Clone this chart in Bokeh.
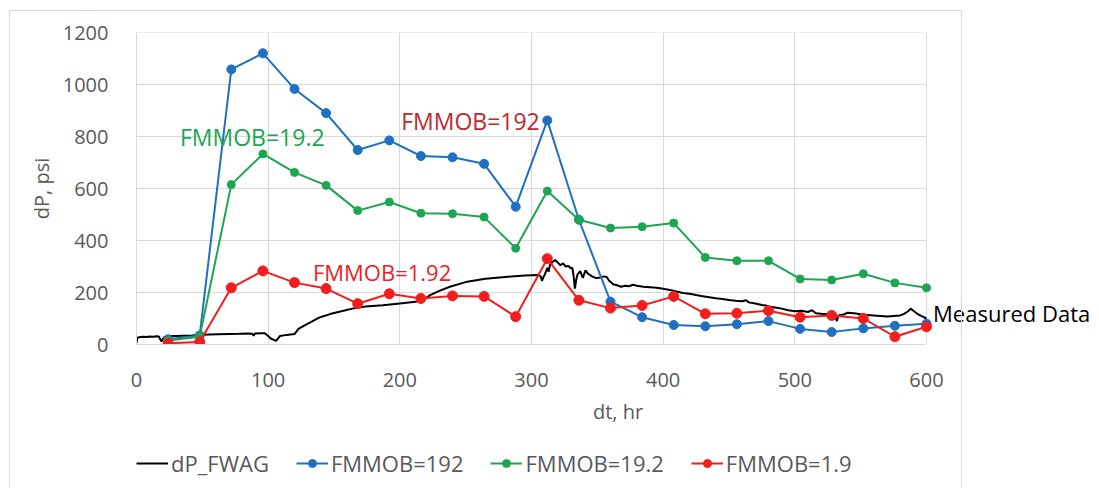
from bokeh.plotting import figure
from bokeh.layouts import column
from bokeh.models import Label, Legend, LegendItem, FixedTicker, Range1d, InlineStyleSheet
from bokeh.embed import file_html
from bokeh.resources import INLINE

# ---- data ----
t_sim = [24, 48, 72, 96, 120, 144, 168, 192, 216, 240, 264, 288, 312, 336,
         360, 384, 408, 432, 456, 480, 504, 528, 552, 576, 600]
fm192 = [20, 35, 1058, 1120, 983, 890, 748, 785, 725, 720, 695, 530, 862, 480,
         165, 105, 75, 70, 78, 90, 60, 48, 62, 72, 80]
fm19_2 = [15, 30, 615, 733, 662, 612, 515, 548, 505, 503, 490, 370, 590, 480,
          448, 453, 467, 335, 322, 322, 252, 248, 272, 237, 218]
fm1_9 = [5, 10, 218, 283, 238, 215, 157, 195, 177, 187, 185, 107, 330, 170,
         140, 150, 185, 118, 120, 130, 105, 112, 100, 30, 68]

t_meas = [0, 0.5, 2, 5, 8, 10, 13, 15, 17, 18, 19, 21, 24, 30, 36, 42, 48, 55, 62,
          70, 78, 85, 88, 89, 90, 95, 97.5, 100, 102, 106, 107, 109, 114, 120, 123,
          127, 132, 139, 147, 154, 164, 174, 187, 200, 212, 218, 223, 230, 238, 250,
          265, 280, 295, 305, 307, 308, 309, 310, 312, 313, 314, 316, 318, 320, 322,
          324, 326, 328, 330, 331, 332, 333, 334, 335, 337, 339, 341, 343, 346, 349,
          352, 355, 357, 359, 362, 365, 368, 371, 374, 377, 380, 385, 390, 395, 400,
          405, 410, 415, 420, 425, 430, 435, 440, 445, 450, 455, 460, 463, 465, 470,
          475, 478, 480, 485, 490, 495, 500, 505, 510, 513, 516, 520, 525, 528, 530,
          532, 533, 537, 540, 545, 550, 555, 560, 565, 570, 575, 580, 583, 586, 588,
          590, 593, 596, 600]
dp_meas = [5, 25, 28, 30, 29, 31, 30, 32, 31, 20, 12, 28, 32, 33, 34, 35, 37, 38, 39,
           40, 41, 42, 41, 34, 42, 43, 43, 33, 23, 14, 20, 33, 37, 40, 60,
           72, 85, 104, 117, 126, 138, 146, 151, 158, 164, 172, 190, 206, 222, 240,
           253, 260, 265, 267, 262, 245, 258, 268, 295, 280, 305, 318, 325, 315, 305,
           312, 300, 302, 292, 296, 262, 215, 250, 270, 282, 256, 285, 272, 262, 255,
           258, 262, 260, 245, 232, 228, 222, 226, 224, 230, 226, 222, 220, 218, 214,
           210, 204, 198, 195, 190, 186, 182, 178, 175, 171, 168, 166, 170, 162, 158,
           152, 150, 146, 142, 138, 132, 128, 130, 125, 132, 120, 118, 116, 114, 112,
           90, 112, 115, 122, 120, 116, 113, 112, 110, 108, 110, 112, 118, 128, 138,
           130, 118, 110, 100]

x_ticks = [0, 100, 200, 300, 400, 500, 600]
y_ticks = [0, 200, 400, 600, 800, 1000, 1200]

BLUE = "#1F70C1"
GREEN = "#1EA552"
RED = "#F21D1D"
FONT = "Open Sans"
GREY_TXT = "#595959"
GRID = "#D9D9D9"

X_MAX = x_ticks[-1]
Y_MAX = y_ticks[-1]
# frame extends right of the plot area so the "Measured Data" note can be drawn
FRAME_W = 1099 - 136
PLOT_W = 790
x_end = X_MAX * FRAME_W / PLOT_W

p = figure(width=1099, height=440, output_backend="svg", toolbar_location=None,
           x_range=Range1d(0, x_end), y_range=Range1d(0, Y_MAX),
           min_border_left=136, min_border_right=0, min_border_top=32,
           min_border_bottom=96)
p.background_fill_color = "white"
p.border_fill_color = None
p.outline_line_color = None

for ax in (p.xaxis[0], p.yaxis[0]):
    ax.axis_line_color = GRID
    ax.major_tick_line_color = None
    ax.minor_tick_line_color = None
    ax.major_label_text_color = GREY_TXT
    ax.major_label_text_font = FONT
    ax.major_label_text_font_size = "20px"
    ax.axis_label_text_color = GREY_TXT
    ax.axis_label_text_font = FONT
    ax.axis_label_text_font_size = "20px"
    ax.axis_label_text_font_style = "normal"

p.xaxis.ticker = FixedTicker(ticks=x_ticks)
p.yaxis.ticker = FixedTicker(ticks=y_ticks)
p.xaxis.bounds = (0, X_MAX)
p.xaxis.axis_label = "dt, hr"
p.yaxis.axis_label = "dP, psi"
p.xaxis.major_label_standoff = 22
p.xaxis.axis_label_standoff = 8
p.yaxis.major_label_standoff = 22
p.yaxis.axis_label_standoff = 5

p.xgrid.ticker = FixedTicker(ticks=x_ticks)
p.xgrid.grid_line_color = GRID
p.ygrid.visible = False
# horizontal grid lines limited to the plot area
p.segment(x0=0, x1=X_MAX, y0=y_ticks, y1=y_ticks, line_color=GRID, line_width=1,
          level="underlay")

p.line(t_meas, dp_meas, line_color="black", line_width=2)
p.line(t_sim, fm192, line_color=BLUE, line_width=2)
p.scatter(t_sim, fm192, size=9, fill_color=BLUE, line_color=BLUE)
p.line(t_sim, fm19_2, line_color=GREEN, line_width=2)
p.scatter(t_sim, fm19_2, size=8, fill_color=GREEN, line_color=GREEN)
p.line(t_sim, fm1_9, line_color=RED, line_width=2)
p.scatter(t_sim, fm1_9, size=10, fill_color=RED, line_color=RED)

def add_label(x, y, text, color, size="23px"):
    p.add_layout(Label(x=x, y=y, text=text, text_color=color, text_font=FONT,
                       text_font_size=size, text_baseline="middle", text_align="left"))

add_label(33, 800, "FMMOB=19.2", GREEN)
add_label(201, 858, "FMMOB=192", "#C0282D")
add_label(134, 280, "FMMOB=1.92", "#EE1C25", "22px")
add_label(605, 123, "Measured Data", "black", "22px")

# ---- legend strip (same series, ranges chosen so only the legend shows) ----
q = figure(width=1099, height=48, output_backend="svg", toolbar_location=None,
           x_range=Range1d(-2, -1), y_range=Range1d(-2, -1),
           x_axis_type=None, y_axis_type=None,
           min_border_left=0, min_border_right=0, min_border_top=0, min_border_bottom=0)
q.outline_line_color = None
q.background_fill_color = "white"
q.border_fill_color = None
q.xgrid.visible = False
q.ygrid.visible = False
lg0 = q.line(t_meas, dp_meas, line_color="black", line_width=2)
lg1 = q.line(t_sim, fm192, line_color=BLUE, line_width=2)
sg1 = q.scatter(t_sim, fm192, size=7, fill_color=BLUE, line_color=BLUE)
lg2 = q.line(t_sim, fm19_2, line_color=GREEN, line_width=2)
sg2 = q.scatter(t_sim, fm19_2, size=7, fill_color=GREEN, line_color=GREEN)
lg3 = q.line(t_sim, fm1_9, line_color=RED, line_width=2)
sg3 = q.scatter(t_sim, fm1_9, size=7, fill_color=RED, line_color=RED)

legend = Legend(items=[
    LegendItem(label="dP_FWAG", renderers=[lg0]),
    LegendItem(label="FMMOB=192", renderers=[lg1, sg1]),
    LegendItem(label="FMMOB=19.2", renderers=[lg2, sg2]),
    LegendItem(label="FMMOB=1.9", renderers=[lg3, sg3]),
], orientation="horizontal", location=(0, 10))
legend.label_text_font = FONT
legend.label_text_font_size = "22px"
legend.label_text_color = GREY_TXT
legend.glyph_width = 32
legend.glyph_height = 20
legend.label_standoff = 3
legend.spacing = 27
legend.padding = 0
legend.margin = 0
legend.border_line_color = None
legend.background_fill_alpha = 0
q.add_layout(legend)

border_css = InlineStyleSheet(css="""
:host::after {
  content: "";
  position: absolute;
  left: 9px; top: 10px; width: 951px; height: 520px;
  border: 1.5px solid #D9D9D9;
  pointer-events: none;
}
""")
layout = column(p, q, spacing=0, stylesheets=[border_css])

open("out.html", "w").write(file_html(layout, INLINE))
